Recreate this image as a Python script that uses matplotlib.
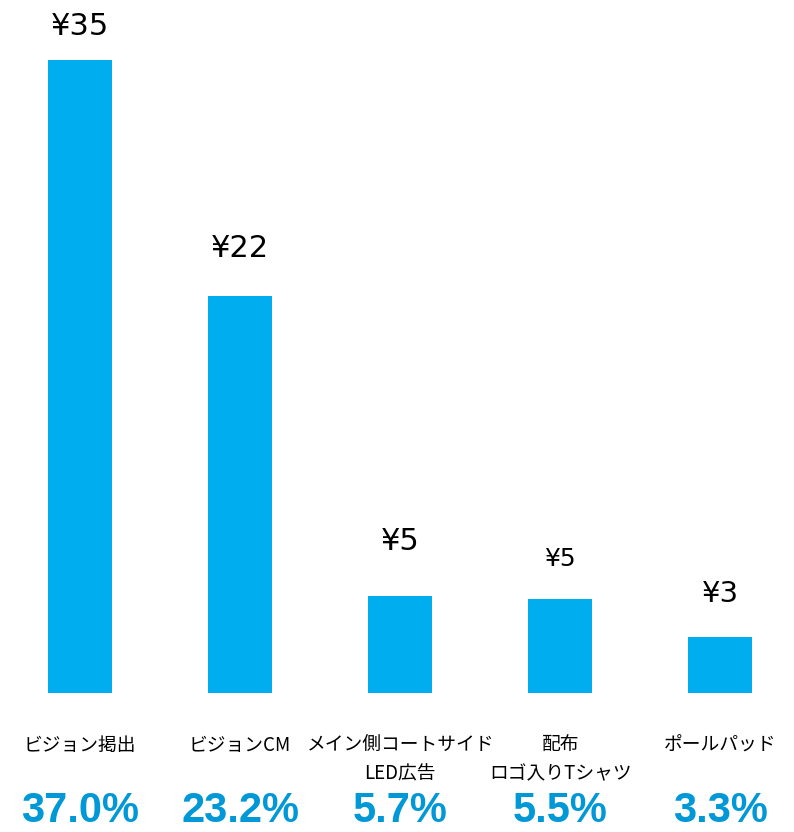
import matplotlib.pyplot as plt

categories = ["ビジョン掲出", "ビジョンCM", "メイン側コートサイド\nLED広告",
              "配布\nロゴ入りTシャツ", "ポールパッド"]
shares = [37.0, 23.2, 5.7, 5.5, 3.3]          # % share, drives bar height
value_labels = ["¥35", "¥22", "¥5", "¥5", "¥3"]
share_labels = ["37.0%", "23.2%", "5.7%", "5.5%", "3.3%"]

bar_color = "#00AEEF"
pct_color = "#0098D6"

# label gap above bar (points) and font size, tuned per bar
label_gap = [18, 28, 33, 24, 25]
label_size = [22, 22, 22, 18, 21]

fig = plt.figure(figsize=(7.94, 8.32), dpi=100)
ax = fig.add_axes([0, 0.167, 1, 0.833])

x = range(len(categories))
ax.bar(x, shares, width=0.4, color=bar_color)
ax.set_xlim(-0.5, 4.46)
ax.set_ylim(0, 40.5)
ax.axis("off")

for i, (v, s) in enumerate(zip(shares, value_labels)):
    ax.annotate(s, (i, v), xytext=(0, label_gap[i]), textcoords="offset points",
                ha="center", va="baseline", fontsize=label_size[i],
                family=["DejaVu Sans"])

xt = ax.get_xaxis_transform()
for i, c in enumerate(categories):
    ax.text(i, -0.06, c, transform=xt, ha="center", va="top", fontsize=13.5,
            family=["Noto Sans CJK JP", "DejaVu Sans"], linespacing=1.5)
    ax.text(i, -0.17, share_labels[i], transform=xt, ha="center", va="center",
            fontsize=30, fontweight="bold", color=pct_color,
            family=["Liberation Sans Narrow", "Liberation Sans"])

fig.savefig("out.png", dpi=100)
